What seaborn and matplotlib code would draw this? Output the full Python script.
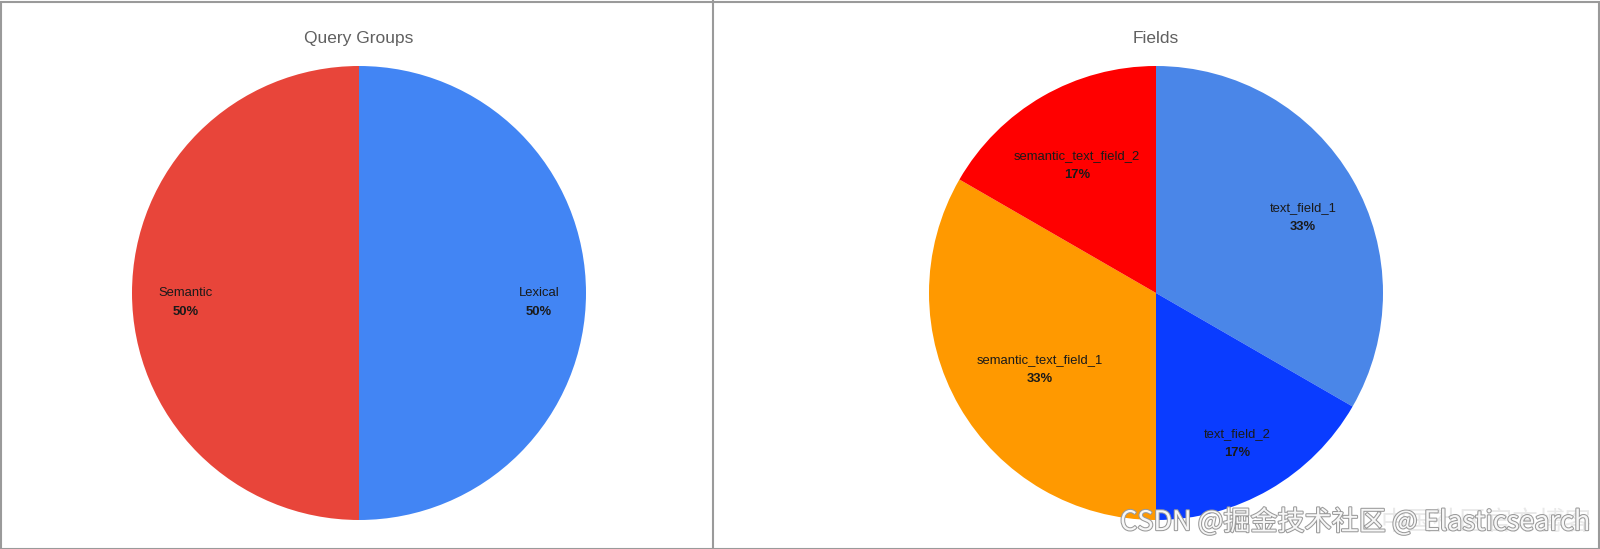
import numpy as np
import matplotlib
matplotlib.use("Agg")
import matplotlib.pyplot as plt
import matplotlib.patheffects as pe
from matplotlib.lines import Line2D
from matplotlib.patches import Rectangle
import seaborn as sns

# ---- data ----
group_labels = ["Lexical", "Semantic"]
group_counts = [1, 1]
group_colors = ["#4285f4", "#e8453a"]

field_labels = ["text_field_1", "text_field_2", "semantic_text_field_1", "semantic_text_field_2"]
field_counts = [2, 1, 2, 1]
field_colors = ["#4a86e8", "#0a3cff", "#ff9900", "#ff0000"]

sns.set_theme(style="white")
plt.rcParams["font.family"] = ["Liberation Sans", "DejaVu Sans"]

W, H = 1600, 549
fig = plt.figure(figsize=(W / 100, H / 100), dpi=100)
fig.patch.set_facecolor("white")

R_PX = 227


def pie_axes(cx, cy):
    """Square axes (in pixels) holding a unit-radius pie centred at (cx, cy) from top-left."""
    left = (cx - R_PX) / W
    bottom = (H - cy - R_PX) / H
    ax = fig.add_axes([left, bottom, 2 * R_PX / W, 2 * R_PX / H])
    return ax


def draw_pie(ax, labels, counts, colors, title, cx):
    wedges, _ = ax.pie(counts, colors=colors, startangle=90, counterclock=False,
                       radius=1.0, wedgeprops=dict(linewidth=0))
    ax.set_xlim(-1, 1)
    ax.set_ylim(-1, 1)
    ax.set_aspect("equal")
    ax.axis("off")
    fig.text(cx / W, 1 - 38.5 / H, title, ha="center", va="center",
             fontsize=12.5, color="#606060")

    total = float(sum(counts))
    fig.canvas.draw()
    renderer = fig.canvas.get_renderer()
    gap = 19.0 / R_PX  # spacing between name line and percentage line (data units)
    for w, name, c in zip(wedges, labels, counts):
        theta = np.deg2rad((w.theta1 + w.theta2) / 2.0)
        pct = f"{round(100 * c / total):d}%"
        t1 = ax.text(0, 0, name, ha="center", va="center", fontsize=9.4, color="#1a1a1a")
        t2 = ax.text(0, 0, pct, ha="center", va="center", fontsize=9.4,
                     fontweight="bold", color="#1a1a1a")
        b1 = t1.get_window_extent(renderer)
        b2 = t2.get_window_extent(renderer)
        hw = max(b1.width, b2.width) / 2 / R_PX
        top = b1.height / 2 / R_PX
        bot = gap + b2.height / 2 / R_PX
        r_best = 0.0
        for r in np.linspace(0, 1, 801):
            ax0, ay0 = r * np.cos(theta), r * np.sin(theta)
            corners = [(ax0 + sx * hw, ay0 + sy) for sx in (-1, 1) for sy in (top, -bot)]
            if max(np.hypot(x, y) for x, y in corners) > 0.89:
                break
            r_best = r
        x0, y0 = r_best * np.cos(theta), r_best * np.sin(theta)
        t1.set_position((x0, y0))
        t2.set_position((x0, y0 - gap))


ax_left = pie_axes(359, 293)
draw_pie(ax_left, group_labels, group_counts, group_colors, "Query Groups", 359)

ax_right = pie_axes(1156, 293)
draw_pie(ax_right, field_labels, field_counts, field_colors, "Fields", 1156)

# panel frames
frame_color = "#9a9a9a"
fig.add_artist(Rectangle((0.5 / W, 0.5 / H), (W - 1.5) / W, (H - 2) / H,
                         transform=fig.transFigure, fill=False,
                         edgecolor=frame_color, linewidth=1.5))
fig.add_artist(Line2D([713 / W, 713 / W], [0, 1], transform=fig.transFigure,
                      color=frame_color, linewidth=1.5))

# watermark
wm_font = ["Noto Sans CJK SC", "DejaVu Sans"]
fig.text(1380 / W, 1 - 522 / H, "中国社区官方博客", ha="left", va="center",
         fontsize=19, family=wm_font, color="#e4e4e4", alpha=0.8)
fig.text(1120 / W, 1 - 522 / H, "CSDN @掘金技术社区 @ Elasticsearch", ha="left", va="center",
         fontsize=19.5, family=wm_font, color="#f7f7f7",
         path_effects=[pe.withStroke(linewidth=1.5, foreground="#9a9a9a")])

fig.savefig("out.png", dpi=100, facecolor="white")
